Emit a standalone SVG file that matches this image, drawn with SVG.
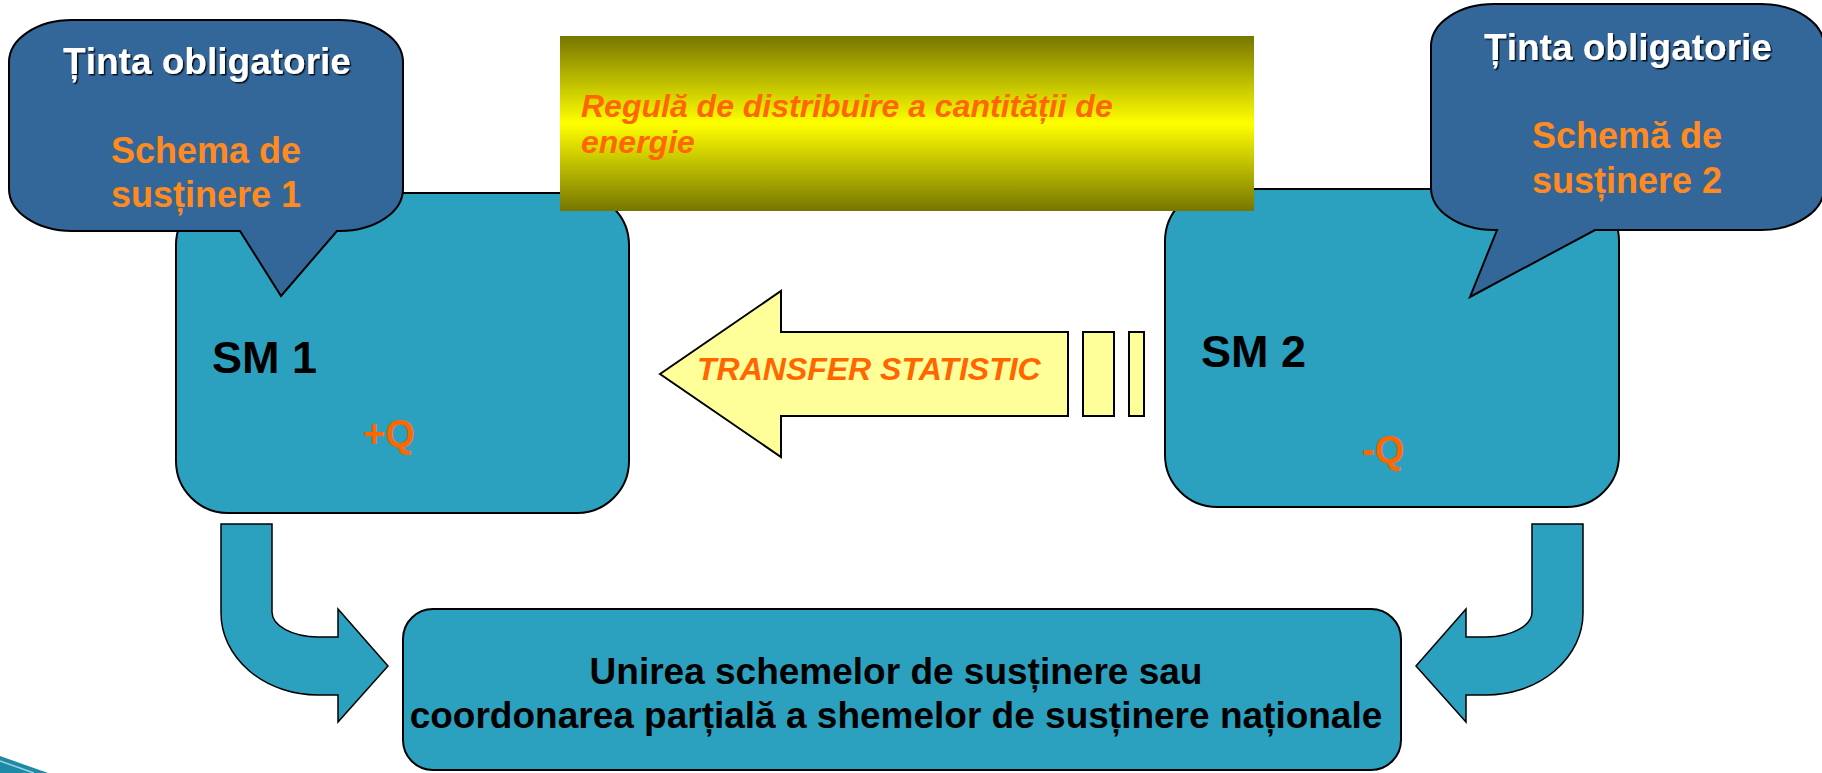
<svg xmlns="http://www.w3.org/2000/svg" width="1822" height="773" viewBox="0 0 1822 773">
<defs>
<linearGradient id="gold" x1="0" y1="0" x2="0" y2="1">
<stop offset="0" stop-color="#767600"/>
<stop offset="0.5" stop-color="#FFFF00"/>
<stop offset="1" stop-color="#767600"/>
</linearGradient>
<filter id="shadow" x="-10%" y="-30%" width="120%" height="160%">
<feDropShadow dx="1.5" dy="1.5" stdDeviation="0.6" flood-color="#000" flood-opacity="0.85"/>
</filter>
<style>
.box{fill:#2CA1BF;stroke:#000;stroke-width:2}
.callout{fill:#336699;stroke:#000;stroke-width:2}
.bent{fill:#2CA1BF;stroke:#000;stroke-width:1.5}
.yel{fill:#FFFF99;stroke:#000;stroke-width:2}
text{font-family:"Liberation Sans",Arial,sans-serif;font-weight:bold}
.white{fill:#fff;font-size:37px;text-anchor:middle;filter:url(#shadow)}
.orange{fill:#FF8A1F;font-size:36px;text-anchor:middle}
.ital{fill:#FF6600;font-size:32px;font-style:italic}
.sm{fill:#000;font-size:45px}
.q{fill:#FF6600;font-size:38px}
.bottom{fill:#000;font-size:37px;text-anchor:middle}
</style>
</defs>
<rect width="1822" height="773" fill="#fff"/>

<g id="sm1">
<rect class="box" x="176" y="193" width="453" height="320" rx="52" ry="52"/>
<text class="sm" x="212" y="373">SM 1</text>
<text class="q" x="363" y="447">+Q</text>
</g>

<g id="sm2">
<rect class="box" x="1165" y="189" width="454" height="318" rx="52" ry="52"/>
<text class="sm" x="1201" y="367">SM 2</text>
<text class="q" x="1362" y="463">-Q</text>
</g>

<g id="callout1">
<path class="callout" d="M72,20 L340,20 A63,42 0 0 1 403,62 L403,189 A63,42 0 0 1 340,231 L337,231 L281,296 L240,231 L72,231 A63,42 0 0 1 9,189 L9,62 A63,42 0 0 1 72,20 Z"/>
<text class="white" x="207" y="74">Ținta obligatorie</text>
<text class="orange" x="206" y="163">Schema de</text>
<text class="orange" x="206" y="207">susținere 1</text>
</g>

<g id="callout2">
<path class="callout" d="M1494,4 L1761,4 A63,42 0 0 1 1824,46 L1824,188 A63,42 0 0 1 1761,230 L1595,230 L1470,297 L1497,230 L1494,230 A63,42 0 0 1 1431,188 L1431,46 A63,42 0 0 1 1494,4 Z"/>
<text class="white" x="1628" y="60">Ținta obligatorie</text>
<text class="orange" x="1627" y="148">Schemă de</text>
<text class="orange" x="1627" y="193">susținere 2</text>
</g>

<g id="banner">
<rect x="560" y="36" width="694" height="175" fill="url(#gold)"/>
<text class="ital" x="581" y="117">Regulă de distribuire a cantității de</text>
<text class="ital" x="581" y="153">energie</text>
</g>

<g id="transfer">
<path class="yel" d="M660,374 L781,291 L781,332 L1068,332 L1068,416 L781,416 L781,457 Z"/>
<rect class="yel" x="1083" y="332" width="31" height="84"/>
<rect class="yel" x="1129" y="332" width="15" height="84"/>
<text class="ital" x="697" y="380">TRANSFER STATISTIC</text>
</g>

<g id="union">
<rect class="box" x="403" y="609" width="998" height="161" rx="30" ry="30"/>
<text class="bottom" x="896" y="684">Unirea schemelor de susținere sau</text>
<text class="bottom" x="896" y="728">coordonarea parțială a shemelor de susținere naționale</text>
</g>

<g id="connectors">
<path class="bent" d="M221,524 L272,524 L272,612 A46,25 0 0 0 318,637 L338,637 L338,609 L388,666 L338,722 L338,695 L318,695 A97,82 0 0 1 221,613 Z"/>
<path class="bent" d="M1583,524 L1532,524 L1532,612 A46,25 0 0 1 1486,637 L1466,637 L1466,609 L1416,666 L1466,722 L1466,695 L1486,695 A97,82 0 0 0 1583,613 Z"/>
</g>

<g id="corner-decoration">
<polygon points="0,756 48,773 0,773" fill="#1E8AA5"/>
<line x1="0" y1="761" x2="34" y2="773" stroke="#9CD3E0" stroke-width="1.5"/>
</g>
</svg>
